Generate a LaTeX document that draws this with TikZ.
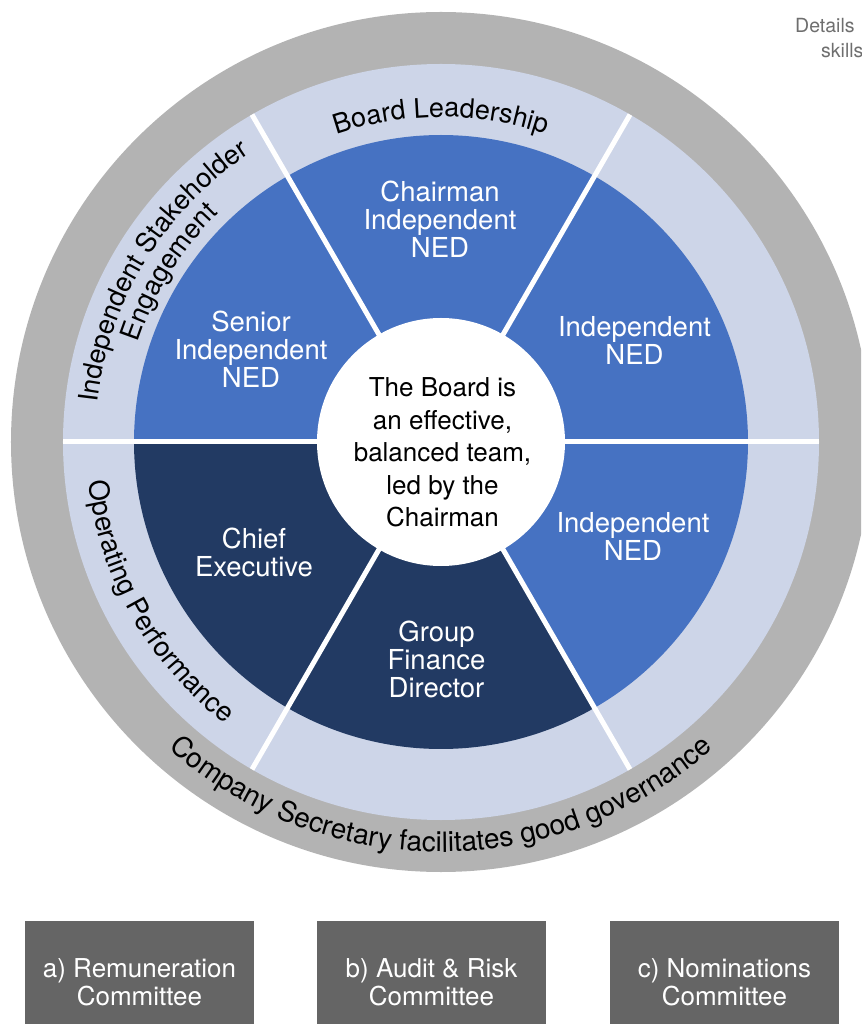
\documentclass[tikz,border=0pt]{standalone}
\usepackage{fontspec}
\setmainfont{TeX Gyre Heros}
\usetikzlibrary{decorations.text}
\definecolor{ringgray}{HTML}{B3B3B3}
\definecolor{ringlight}{HTML}{CDD5E8}
\definecolor{segblue}{HTML}{4672C2}
\definecolor{segnavy}{HTML}{223A63}
\definecolor{boxgray}{HTML}{656565}
\definecolor{notegray}{HTML}{6E6E6E}
\tikzset{
  segtext/.style={text=white, align=center, inner sep=0pt, font=\fontsize{27.5}{28}\selectfont},
  centertext/.style={text=black, align=center, inner sep=0pt, font=\fontsize{26}{32.5}\selectfont},
  combox/.style={fill=boxgray, text=white, align=center, minimum width=229pt, minimum height=122pt, inner sep=0pt, font=\fontsize{26}{28}\selectfont},
  notetext/.style={text=notegray, anchor=base west, inner sep=0pt, font=\fontsize{19.5}{25}\selectfont},
  sepline/.style={white, line width=5pt},
}
\begin{document}
\begin{tikzpicture}[x=1pt,y=1pt]
\useasboundingbox (-441,-582) rectangle (420,442);
\clip (-441,-582) rectangle (420,442);
% rings
\fill[ringgray] (0,0) circle[radius=430pt];
\fill[ringlight] (0,0) circle[radius=378pt];
\foreach \a/\c in {0/segblue,60/segblue,120/segblue,180/segnavy,240/segnavy,300/segblue}
  \fill[\c] (0,0) -- (\a:307pt) arc[start angle=\a, end angle=\a+60, radius=307pt] -- cycle;
\fill[white] (0,0) circle[radius=124pt];
\foreach \a in {0,60,...,300}
  \draw[sepline] (\a:118pt) -- (\a:378pt);
% curved ring texts
\path[decorate, decoration={text along path, text align=center,
  text={|\fontsize{27}{28}\selectfont|Board Leadership}}]
  (120:325pt) arc[start angle=120, end angle=60, radius=325pt];
\path[decorate, decoration={text along path, text align=center,
  text={|\fontsize{27}{28}\selectfont|Independent Stakeholder}}]
  (183.5:346pt) arc[start angle=183.5, end angle=113.5, radius=346pt];
\path[decorate, decoration={text along path, text align=center,
  text={|\fontsize{27}{28}\selectfont|Engagement}}]
  (178:319pt) arc[start angle=178, end angle=118, radius=319pt];
\path[decorate, decoration={text along path, text align=center,
  text={|\fontsize{27.5}{28}\selectfont|Operating Performance}}]
  (174.5:355pt) arc[start angle=174.5, end angle=244.5, radius=355pt];
\path[decorate, decoration={text along path, text align=center,
  text={|\fontsize{28}{28}\selectfont|Company Secretary facilitates good governance}}]
  (215:410pt) arc[start angle=215, end angle=325, radius=410pt];
% segment labels
\node[segtext] (chair) at (-1,223) {Chairman\\Independent\\NED};
\node[segtext] (nedA) at (193.5,101.5) {Independent\\NED};
\node[segtext] (nedB) at (192,-94.5) {Independent\\NED};
\node[segtext] (sid) at (-190,93) {Senior\\Independent\\NED};
\node[segtext] (ceo) at (-187,-110.5) {Chief\\Executive};
\node[segtext] (gfd) at (-4.5,-217.5) {Group\\Finance\\Director};
\node[centertext] (core) at (1.5,-10.5) {The Board is\\an effective,\\balanced team,\\led by the\\Chairman};
% committees
\node[combox] (rem) at (-301.5,-540) {a) Remuneration\\Committee};
\node[combox] (aud) at (-9.5,-540) {b) Audit \& Risk\\Committee};
\node[combox] (nom) at (283.5,-540) {c) Nominations\\Committee};
% cut-off note
\node[notetext] (noteA) at (354,409) {Details};
\node[notetext] (noteB) at (380,384) {skills};
\end{tikzpicture}
\end{document}
